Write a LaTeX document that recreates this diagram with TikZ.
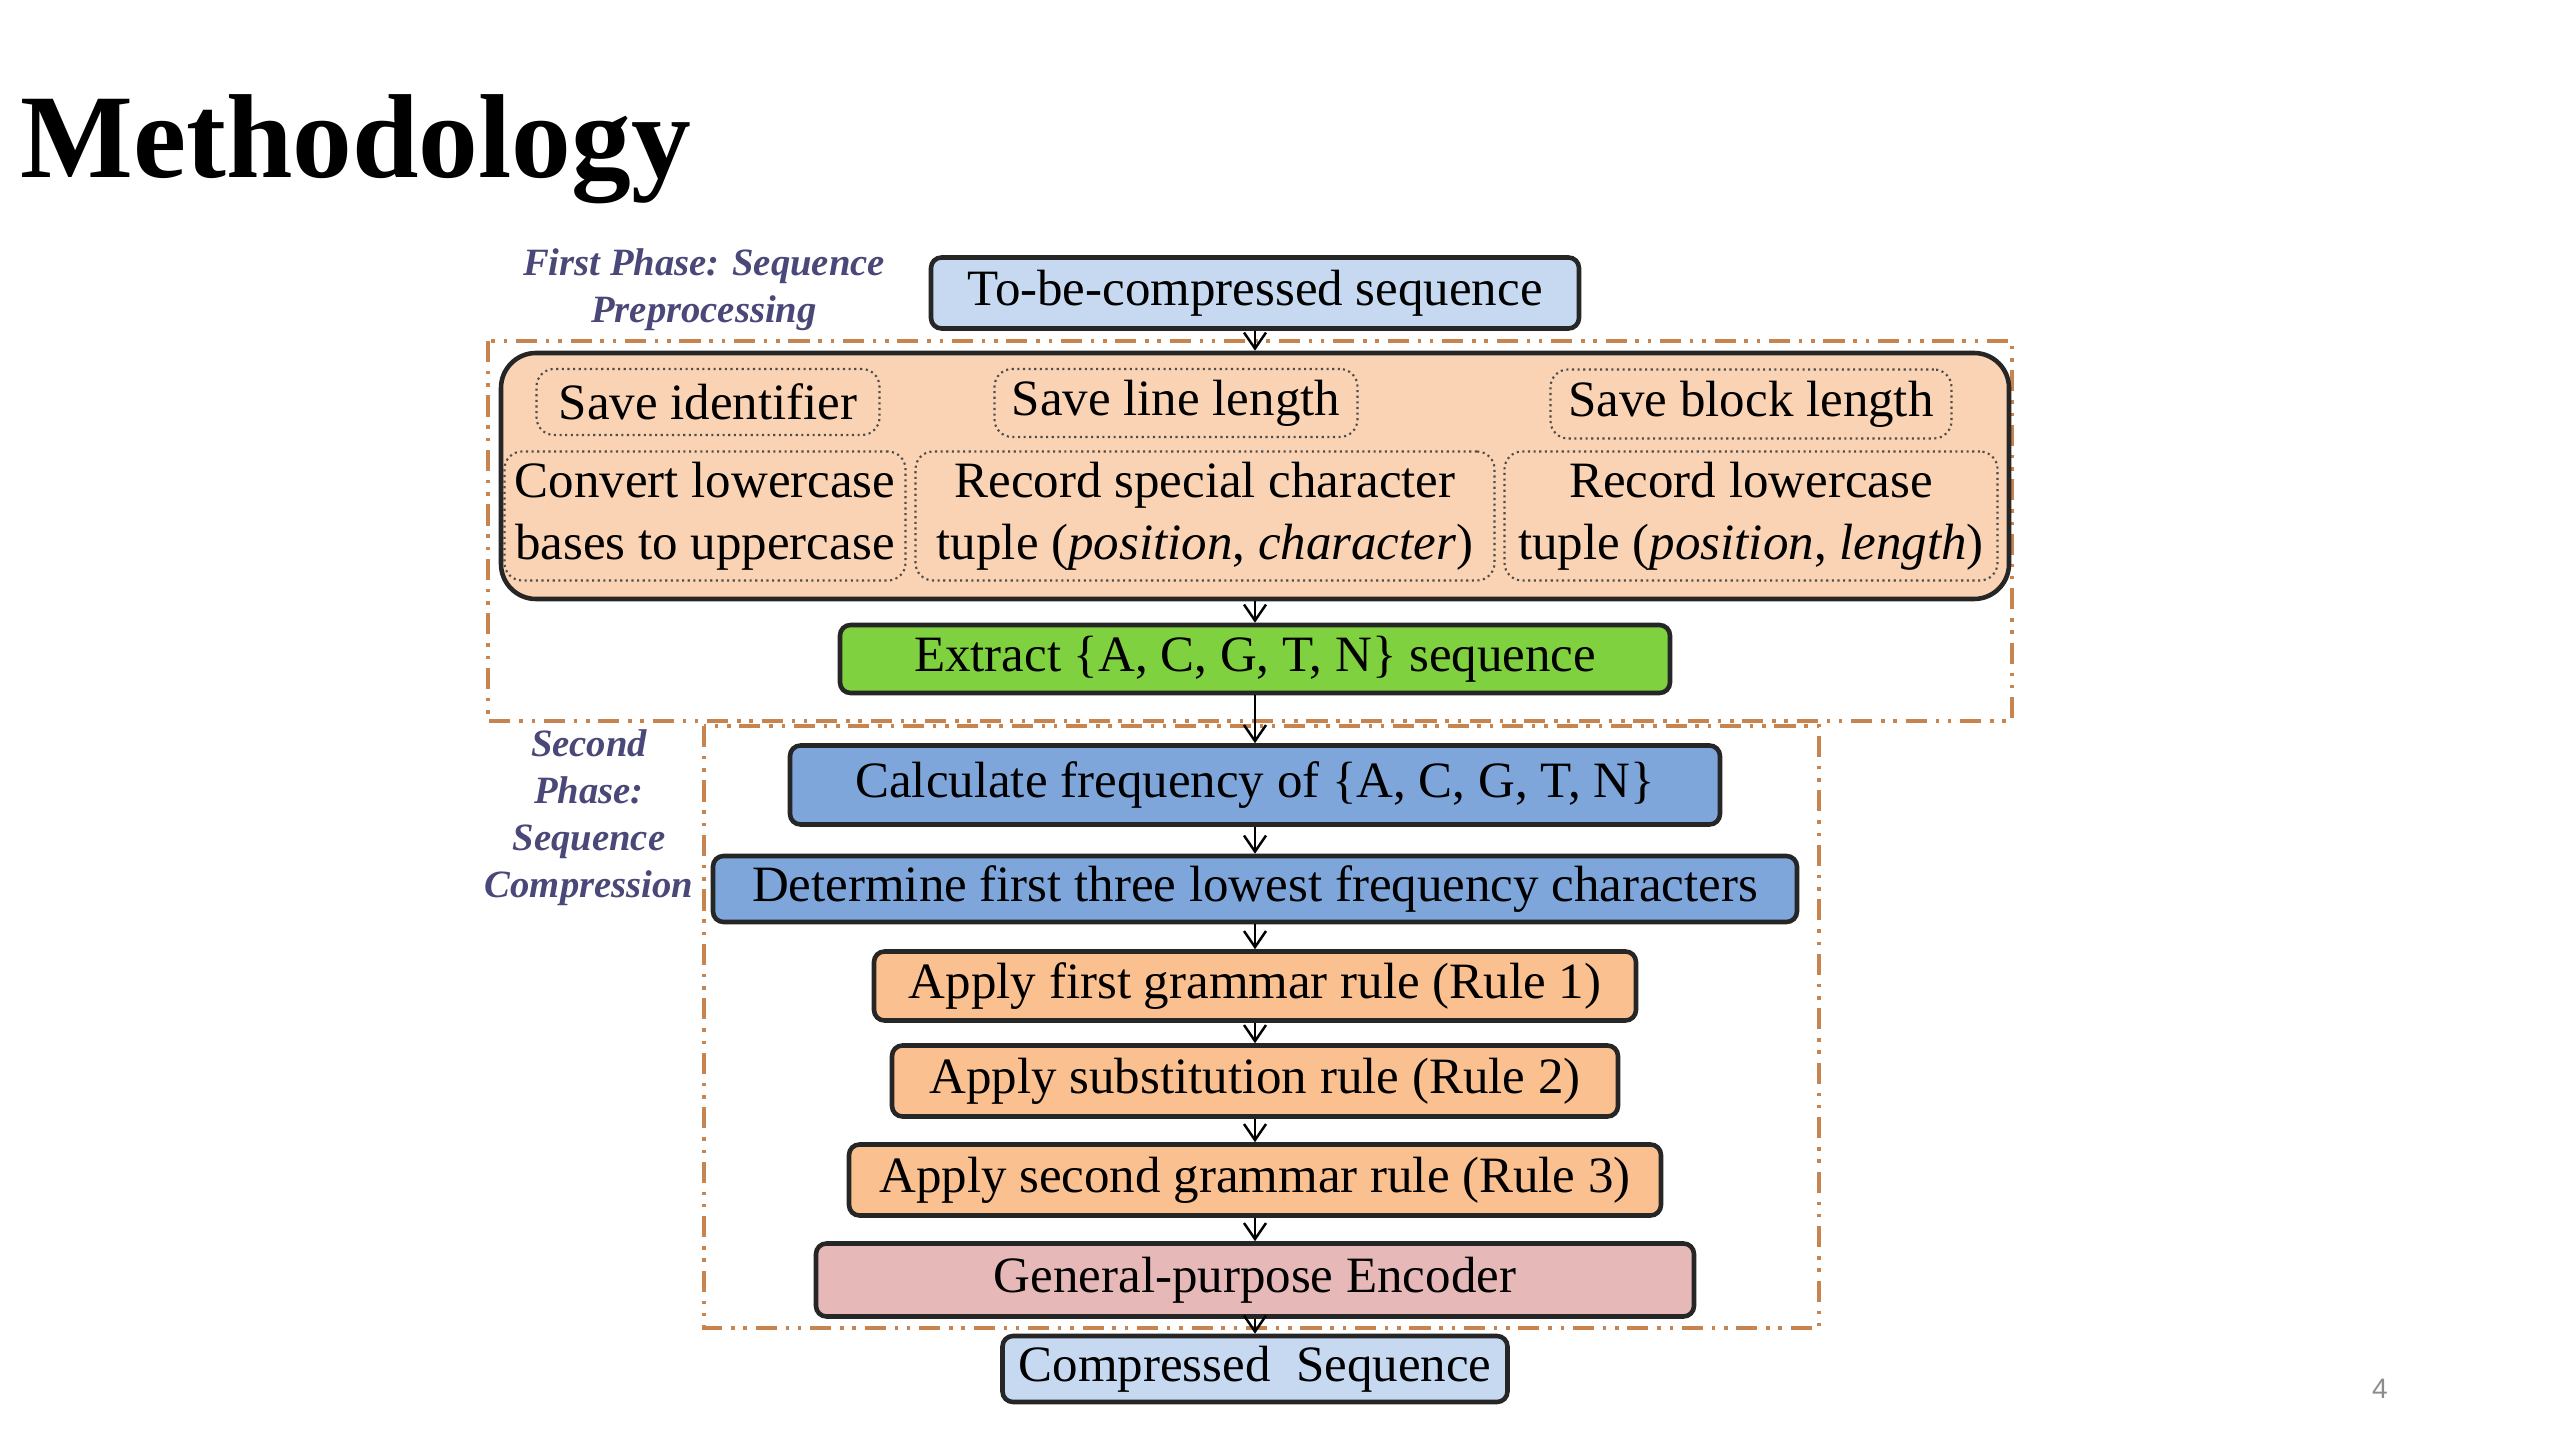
\documentclass[tikz,border=0pt]{standalone}
\usepackage{fontspec}
\setmainfont{Liberation Serif}
\setsansfont{Liberation Sans}
\usetikzlibrary{positioning,arrows.meta}

\definecolor{seqblue}{HTML}{C6D9F0}
\definecolor{prepeach}{HTML}{F9D3B4}
\definecolor{extgreen}{HTML}{7FD13F}
\definecolor{calcblue}{HTML}{7EA6DA}
\definecolor{ruleorange}{HTML}{FAC090}
\definecolor{encpink}{HTML}{E6B9B8}
\definecolor{dashorange}{HTML}{C8844E}
\definecolor{labelpurple}{HTML}{4A4878}

\begin{document}
\begin{tikzpicture}[
    box/.style={rectangle, draw=black!85, line width=1.3pt, rounded corners=3pt, align=center, inner sep=1pt, font=\fontsize{14.5}{17.5}\selectfont},
    sub/.style={rectangle, draw=black!70, densely dotted, line width=0.6pt, rounded corners=5pt, align=center, inner sep=1pt, font=\fontsize{14.5}{17.5}\selectfont},
    phase/.style={draw=dashorange, line width=1pt, dash pattern=on 6pt off 2.5pt on 1pt off 2.5pt on 1pt off 2.5pt},
    plabel/.style={font=\fontsize{11}{13.4}\selectfont\bfseries\itshape, text=labelpurple, align=center},
    arrow/.style={->, >={Straight Barb[length=1.6mm,width=2.2mm]}, line width=0.7pt}
]
    \useasboundingbox (0,0) rectangle (25.6,14.4);

    \node[anchor=base west, inner sep=0pt, font=\fontsize{34}{40}\selectfont\bfseries] (title) at (0.2, 12.62) {Methodology};
    \node[font=\sffamily\fontsize{8}{10}\selectfont, text=black!45] (page) at (23.80, 0.51) {4};

    % phase frames
    \draw[phase] (4.88, 10.99) rectangle (20.12, 7.19);
    \draw[phase] (7.04, 7.14) rectangle (18.19, 1.12);
    \node[plabel] (lab1) at (7.04, 11.50) {First Phase: Sequence\\Preprocessing};
    \node[plabel] (lab2) at (5.89, 6.22) {Second\\Phase:\\Sequence\\Compression};

    % first phase
    \node[box, fill=seqblue, minimum width=6.48cm, minimum height=0.71cm] (seq) at (12.55, 11.47) {To-be-compressed sequence};
    \node[box, fill=prepeach, rounded corners=0.35cm, minimum width=15.08cm, minimum height=2.46cm] (inner) at (12.55, 9.64) {};

    \node[sub, minimum width=3.43cm, minimum height=0.66cm] (ident) at (7.08, 10.38) {Save identifier};
    \node[sub, minimum width=3.63cm, minimum height=0.68cm] (linelen) at (11.76, 10.37) {Save line length};
    \node[sub, minimum width=4.01cm, minimum height=0.69cm] (blocklen) at (17.51, 10.36) {Save block length};
    \node[sub, minimum width=4.01cm, minimum height=1.29cm] (conv) at (7.05, 9.24) {Convert lowercase\\bases to uppercase};
    \node[sub, minimum width=5.79cm, minimum height=1.29cm] (special) at (12.05, 9.24) {Record special character\\tuple (\textit{position}, \textit{character})};
    \node[sub, minimum width=4.93cm, minimum height=1.29cm] (lower) at (17.51, 9.24) {Record lowercase\\tuple (\textit{position}, \textit{length})};

    \node[box, fill=extgreen, minimum width=8.30cm, minimum height=0.68cm] (extract) at (12.55, 7.81) {Extract \{A, C, G, T, N\} sequence};

    % second phase
    \node[box, fill=calcblue, minimum width=9.30cm, minimum height=0.79cm] (calc) at (12.55, 6.55) {Calculate frequency of \{A, C, G, T, N\}};
    \node[box, fill=calcblue, minimum width=10.84cm, minimum height=0.66cm] (lowest) at (12.55, 5.51) {Determine first three lowest frequency characters};
    \node[box, fill=ruleorange, minimum width=7.62cm, minimum height=0.69cm] (rulea) at (12.55, 4.54) {Apply first grammar rule (Rule 1)};
    \node[box, fill=ruleorange, minimum width=7.26cm, minimum height=0.71cm] (ruleb) at (12.55, 3.59) {Apply substitution rule (Rule 2)};
    \node[box, fill=ruleorange, minimum width=8.12cm, minimum height=0.71cm] (rulec) at (12.55, 2.60) {Apply second grammar rule (Rule 3)};
    \node[box, fill=encpink, minimum width=8.78cm, minimum height=0.73cm] (enc) at (12.55, 1.60) {General-purpose Encoder};
    \node[box, fill=seqblue, minimum width=5.05cm, minimum height=0.66cm] (result) at (12.55, 0.71) {Compressed\enspace Sequence};

    \draw[arrow] (seq) -- (inner);
    \draw[arrow] (inner) -- (extract);
    \draw[arrow] (extract) -- (calc);
    \draw[arrow] (calc) -- (lowest);
    \draw[arrow] (lowest) -- (rulea);
    \draw[arrow] (rulea) -- (ruleb);
    \draw[arrow] (ruleb) -- (rulec);
    \draw[arrow] (rulec) -- (enc);
    \draw[arrow] (enc) -- (result);

\end{tikzpicture}
\end{document}
